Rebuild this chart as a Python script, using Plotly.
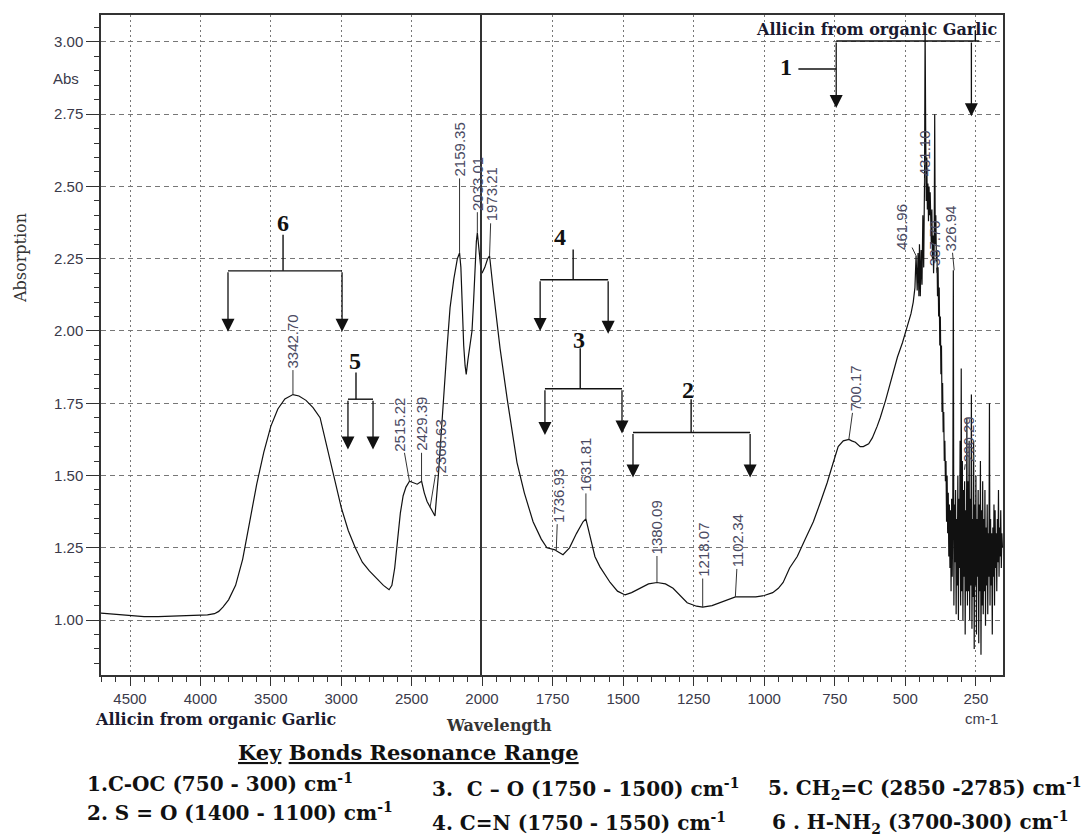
import numpy as np
import plotly.graph_objects as go

# ---------------- data ----------------
wavenumber = [
    4707, 4600, 4500, 4400, 4300, 4200, 4100, 4000, 3950, 3900, 3870, 3840, 3800, 3750, 3700,
    3650, 3600, 3550, 3500, 3450, 3400, 3342.7, 3300, 3250, 3200, 3150, 3100, 3050, 3000, 2950,
    2900, 2850, 2800, 2750, 2700, 2660, 2640, 2620, 2600, 2580, 2560, 2540, 2515, 2490, 2460,
    2429, 2410, 2390, 2368, 2350, 2334, 2310, 2290, 2270, 2250, 2227, 2200, 2175, 2159.35, 2150,
    2140, 2130, 2120, 2112, 2100, 2085, 2071, 2060, 2050, 2040, 2033, 2025, 2015, 2005, 2000,
    1990, 1980, 1973.21, 1960, 1945, 1936, 1910, 1876, 1850, 1819, 1790, 1770, 1741, 1737, 1713,
    1690, 1665, 1642, 1632, 1615, 1600, 1582, 1546, 1520, 1493, 1470, 1440, 1410, 1380, 1350,
    1323, 1295, 1273, 1240, 1218, 1185, 1156, 1125, 1102, 1060, 1030, 1000, 970, 950, 933,
    910, 883, 855, 826, 800, 777, 757, 738, 720, 700, 690, 677, 660, 649, 630,
    617, 600, 589, 570, 553, 540, 528, 510, 493, 480, 472, 466, 462, 458, 455,
    452, 450, 447, 444, 441, 438, 435, 432, 430, 428, 426, 424, 422, 420, 418,
    416, 414, 412, 410, 408, 406, 404, 402, 400, 398, 396, 394, 392, 390, 388,
    386, 384, 382, 380, 378, 376, 374, 372, 370, 368, 366, 364, 362, 360, 358,
    356, 354, 352, 350, 348, 346, 344, 342, 340, 338, 336, 334, 332, 330, 328,
    326, 324, 322, 320, 318, 316, 314, 312, 310, 308, 306, 304, 302, 300, 298,
    296, 294, 292, 290, 288, 286, 284, 282, 280, 278, 276, 274, 272, 270, 268,
    266, 264, 262, 260, 258, 256, 254, 252, 250, 248, 246, 244, 242, 240, 238,
    236, 234, 232, 230, 228, 226, 224, 222, 220, 218, 216, 214, 212, 210, 208,
    206, 204, 202, 200, 198, 196, 194, 192, 190, 188, 186, 184, 182, 180, 178,
    176, 174, 172, 170, 168, 166, 164, 162, 160, 158, 156,
]
absorbance = [
    1.024, 1.020, 1.015, 1.012, 1.012, 1.013, 1.014, 1.016, 1.018, 1.022, 1.030, 1.045, 1.070, 1.120, 1.210,
    1.340, 1.470, 1.580, 1.670, 1.730, 1.765, 1.780, 1.775, 1.760, 1.735, 1.700, 1.600, 1.490, 1.390, 1.310,
    1.250, 1.200, 1.170, 1.145, 1.120, 1.105, 1.120, 1.180, 1.280, 1.370, 1.430, 1.460, 1.480, 1.475, 1.470,
    1.480, 1.440, 1.410, 1.390, 1.370, 1.360, 1.500, 1.650, 1.780, 1.930, 2.080, 2.180, 2.250, 2.270, 2.220,
    2.080, 1.950, 1.880, 1.850, 1.900, 1.960, 2.000, 2.100, 2.220, 2.310, 2.340, 2.300, 2.240, 2.200, 2.200,
    2.220, 2.250, 2.260, 2.140, 2.010, 1.940, 1.760, 1.545, 1.440, 1.340, 1.280, 1.250, 1.243, 1.240, 1.226,
    1.250, 1.300, 1.340, 1.350, 1.280, 1.220, 1.184, 1.130, 1.100, 1.087, 1.095, 1.110, 1.125, 1.130, 1.125,
    1.110, 1.080, 1.060, 1.048, 1.045, 1.050, 1.060, 1.070, 1.080, 1.080, 1.080, 1.085, 1.095, 1.110, 1.130,
    1.180, 1.220, 1.280, 1.340, 1.410, 1.475, 1.540, 1.600, 1.620, 1.625, 1.620, 1.615, 1.600, 1.600, 1.610,
    1.630, 1.670, 1.700, 1.760, 1.820, 1.870, 1.910, 1.960, 2.020, 2.060, 2.100, 2.150, 2.260, 2.140, 2.270,
    2.120, 2.300, 2.120, 2.280, 2.160, 2.400, 2.220, 2.520, 3.060, 2.700, 2.450, 2.600, 2.420, 2.510, 2.380,
    2.500, 2.400, 2.480, 2.360, 2.300, 2.420, 2.250, 2.330, 2.200, 2.280, 2.750, 2.300, 2.400, 2.240, 2.280,
    2.120, 2.220, 2.050, 2.150, 1.950, 2.050, 1.850, 1.950, 1.720, 1.820, 1.650, 1.720, 1.550, 1.620, 1.480,
    1.550, 1.340, 1.500, 1.300, 1.440, 1.220, 1.400, 1.180, 1.380, 1.100, 1.420, 1.150, 1.350, 2.210, 1.050,
    1.400, 1.200, 1.450, 1.020, 1.350, 1.120, 1.500, 1.000, 1.420, 1.180, 1.620, 1.050, 1.870, 1.100, 1.550,
    1.000, 1.450, 1.150, 1.480, 0.950, 1.380, 1.100, 1.700, 1.050, 1.480, 1.100, 1.620, 1.000, 1.420, 1.120,
    1.780, 0.970, 1.350, 1.080, 1.620, 0.900, 1.400, 1.120, 1.500, 0.950, 1.350, 1.150, 1.450, 0.920, 1.400,
    1.100, 1.550, 0.880, 1.380, 1.050, 1.480, 1.020, 1.350, 1.100, 1.450, 0.980, 1.320, 1.120, 1.400, 1.020,
    1.300, 1.150, 1.750, 1.050, 1.350, 1.120, 1.300, 0.950, 1.320, 1.150, 1.400, 1.050, 1.380, 1.180, 1.300,
    1.100, 1.350, 1.200, 1.450, 1.150, 1.320, 1.220, 1.380, 1.180, 1.300, 1.250,
]

peak_labels = ["3342.70", "2515.22", "2429.39", "2368.63", "2159.35", "2033.01", "1973.21",
               "1736.93", "1631.81", "1380.09", "1218.07", "1102.34", "700.17", "461.96",
               "431.10", "387.70", "326.94", "290.29"]
peak_wn = [3342.70, 2515.22, 2429.39, 2368.63, 2159.35, 2033.01, 1973.21, 1736.93, 1631.81,
           1380.09, 1218.07, 1102.34, 700.17, 461.96, 431.10, 387.70, 326.94, 290.29]
peak_abs = [1.78, 1.48, 1.48, 1.39, 2.27, 2.34, 2.26, 1.24, 1.35, 1.13, 1.045, 1.08, 1.625,
            2.26, 2.51, 2.20, 2.21, 1.52]

left_ticks = [4500, 4000, 3500, 3000, 2500]
right_ticks = [2000, 1750, 1500, 1250, 1000, 750, 500, 250]

key_items = [
    "1.C-OC (750 - 300) cm<sup>-1</sup>",
    "2. S = O (1400 - 1100) cm<sup>-1</sup>",
    "3.  C \u2013 O (1750 - 1500) cm<sup>-1</sup>",
    "4. C=N (1750 - 1550) cm<sup>-1</sup>",
    "5. CH<sub>2</sub>=C (2850 -2785) cm<sup>-1</sup>",
    "6 . H-NH<sub>2</sub> (3700-300) cm<sup>-1</sup>",
]

# ---------------- figure ----------------
W, H = 1092, 838
ML, MR, MT, MB = 101, 89, 15, 163
PW, PH = W - ML - MR, H - MT - MB
SPLIT = 381 / PW

def px(x):
    return (x - ML) / PW

def py(y):
    return (H - MB - y) / PH

wn = np.array(wavenumber)
ab = np.array(absorbance)
lm = wn >= 2000
rm = wn <= 2000

fig = go.Figure()
line = dict(color="#111111", width=1.2)
fig.add_trace(go.Scatter(x=wn[lm], y=ab[lm], mode="lines", line=line, xaxis="x", yaxis="y",
                         showlegend=False, hoverinfo="skip"))
fig.add_trace(go.Scatter(x=wn[rm], y=ab[rm], mode="lines", line=line, xaxis="x2", yaxis="y2",
                         showlegend=False, hoverinfo="skip"))

tickfont = dict(family="Arial, Liberation Sans, sans-serif", size=15, color="#3a3a4a")
axcol = "#333333"
xgrid = dict(showgrid=True, gridcolor="#777777", gridwidth=1, griddash="2px,3px")
ygrid = dict(showgrid=True, gridcolor="#777777", gridwidth=1, griddash="5px,4px")
YR = [0.81, 3.093]

fig.update_layout(
    width=W, height=H,
    margin=dict(l=ML, r=MR, t=MT, b=MB),
    paper_bgcolor="white", plot_bgcolor="white",
    xaxis=dict(domain=[0, SPLIT], range=[4706, 2000], anchor="y",
               tickmode="array", tickvals=left_ticks, ticktext=[str(t) for t in left_ticks],
               ticks="outside", ticklen=9, tickcolor=axcol, tickwidth=1.2,
               minor=dict(tickmode="linear", tick0=0, dtick=100, ticks="outside", ticklen=5,
                          tickcolor=axcol, showgrid=False),
               showline=True, mirror=True, linecolor=axcol, linewidth=1.5, zeroline=False,
               tickfont=tickfont, **xgrid),
    xaxis2=dict(domain=[SPLIT, 1], range=[2000, 154], anchor="y2",
                tickmode="array", tickvals=right_ticks, ticktext=[str(t) for t in right_ticks],
                ticks="outside", ticklen=9, tickcolor=axcol, tickwidth=1.2,
                minor=dict(tickmode="linear", tick0=0, dtick=50, ticks="outside", ticklen=5,
                           tickcolor=axcol, showgrid=False),
                showline=True, mirror=True, linecolor=axcol, linewidth=1.5, zeroline=False,
                tickfont=tickfont, **xgrid),
    yaxis=dict(domain=[0, 1], range=YR, anchor="x",
               tickmode="linear", tick0=0, dtick=0.25, tickformat=".2f",
               ticks="outside", ticklen=13, tickcolor=axcol, tickwidth=1.2,
               minor=dict(tickmode="linear", tick0=0, dtick=0.05, ticks="outside", ticklen=5,
                          tickcolor=axcol, showgrid=False),
               showline=True, mirror=False, linecolor=axcol, linewidth=1.5, zeroline=False,
               tickfont=tickfont, **ygrid),
    yaxis2=dict(domain=[0, 1], range=YR, anchor="x2", matches="y",
                tickmode="linear", tick0=0, dtick=0.25, showticklabels=False, ticks="",
                showline=True, mirror=True, linecolor=axcol, linewidth=1.5, zeroline=False,
                **ygrid),
)

# ---------------- peak labels ----------------
peak_offsets = [(0, -53), (-10, -57), (0, -57), (10, -61), (0, -103), (0, -49), (2, -61),
                (2, -55), (0, -54), (0, -55), (0, -57), (3, -56), (7, -51), (-14, -29),
                (0, -30), (-3, -30), (-4, -42), (4, -30)]
pfont = dict(family="Arial, Liberation Sans, sans-serif", size=15, color="#4a4a62")
for lab, w, a, (dx, dy) in zip(peak_labels, peak_wn, peak_abs, peak_offsets):
    sfx = "" if w > 2000 else "2"
    fig.add_annotation(x=w, y=a, xref="x" + sfx, yref="y" + sfx, text=lab, textangle=-90,
                       showarrow=True, arrowhead=0, arrowwidth=1, arrowcolor="#333333",
                       ax=dx, ay=dy, font=pfont, standoff=0)

# ---------------- brackets ----------------
bfont = dict(family="Times New Roman, Liberation Serif, serif", size=24, color="#111111")
blk = dict(color="#111111", width=1.4)

def seg(sfx, x0, y0, x1, y1):
    fig.add_shape(type="line", xref="x" + sfx, yref="y" + sfx, x0=x0, y0=y0, x1=x1, y1=y1,
                  line=blk)

def arrow(sfx, x, y_from, y_to):
    fig.add_annotation(x=x, y=y_to, ax=x, ay=y_from, xref="x" + sfx, yref="y" + sfx,
                       axref="x" + sfx, ayref="y" + sfx, text="", showarrow=True,
                       arrowhead=2, arrowsize=2.0, arrowwidth=1.3, arrowcolor="#111111")

def bracket(sfx, label, xl, yl, xs, ys_top, ybar, x_left, x_right, y_tip_l, y_tip_r):
    fig.add_annotation(x=xl, y=yl, xref="x" + sfx, yref="y" + sfx, text="<b>%s</b>" % label,
                       showarrow=False, font=bfont)
    seg(sfx, xs, ys_top, xs, ybar)
    seg(sfx, x_left, ybar, x_right, ybar)
    arrow(sfx, x_left, ybar, y_tip_l)
    arrow(sfx, x_right, ybar, y_tip_r)

bracket("", "6", 3413, 2.372, 3413, 2.333, 2.208, 3804, 2994, 1.997, 1.997)
bracket("", "5", 2902, 1.895, 2895, 1.856, 1.764, 2952, 2774, 1.59, 1.59)
bracket("2", "4", 1723, 2.325, 1677, 2.282, 2.177, 1794, 1553, 2.0, 1.99)
bracket("2", "3", 1656, 1.97, 1652, 1.94, 1.80, 1777, 1504, 1.64, 1.645)
bracket("2", "2", 1270, 1.795, 1259, 1.764, 1.649, 1465, 1050, 1.493, 1.493)

# bracket 1 (top right)
fig.add_annotation(x=922, y=2.913, xref="x2", yref="y2", text="<b>1</b>", showarrow=False,
                   font=bfont)
seg("2", 879, 2.906, 745, 2.906)
seg("2", 745, 3.003, 238, 3.003)
seg("2", 252, 3.003, 252, 3.04)
arrow("2", 745, 3.003, 2.771)
arrow("2", 266, 3.003, 2.743)

# ---------------- texts ----------------
serif_w = "DejaVu Serif, serif"
sans = "Arial, Liberation Sans, sans-serif"

def text(x, y, s, size, family, color="#111111", xanchor="center", angle=0):
    fig.add_annotation(x=px(x), y=py(y), xref="paper", yref="paper", text=s, showarrow=False,
                       xanchor=xanchor, yanchor="middle", textangle=angle,
                       font=dict(family=family, size=size, color=color))

text(876, 29, "<b>Allicin from organic Garlic</b>", 16, serif_w, "#1a1a30")
text(215, 719, "<b>Allicin from organic Garlic</b>", 16, serif_w, "#1a1a30")
text(499, 725, "<b>Wavelength</b>", 16, serif_w, "#333333")
text(981, 718, "cm-1", 15, sans, "#3a3a4a")
text(66, 78, "Abs", 15, sans, "#3a3a4a")
text(20, 258, "Absorption", 16, serif_w, "#333333", angle=-90)
text(408, 752, "<b><u>Key</u> <u>Bonds Resonance Range</u></b>", 21, serif_w)

key_pos = [(85, 783), (85, 812), (430, 788), (430, 822), (766, 788), (770, 822)]
for s, (x, y) in zip(key_items, key_pos):
    text(x, y, "<b>%s</b>" % s, 20, serif_w, xanchor="left")

fig.write_html("out.html")
